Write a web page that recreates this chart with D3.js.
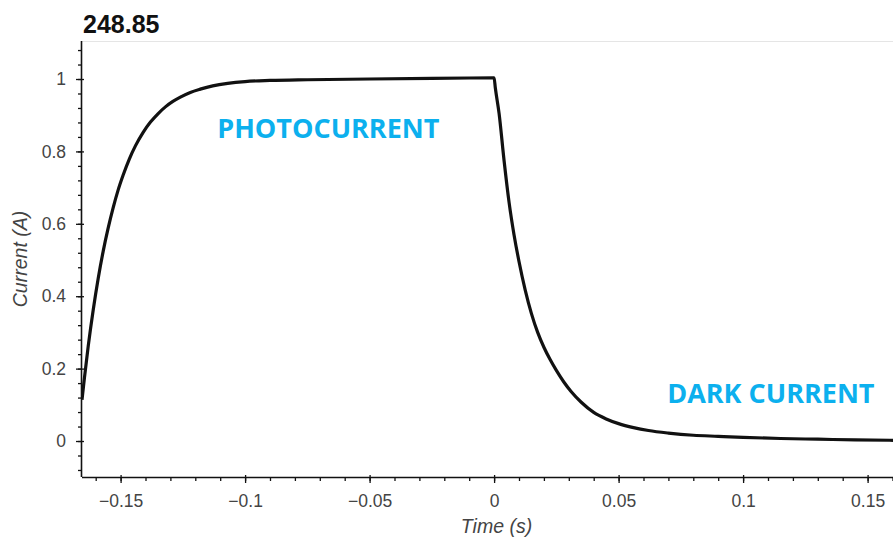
<!DOCTYPE html>
<html>
<head>
<meta charset="utf-8">
<script src="https://cdn.jsdelivr.net/npm/d3@7"></script>
<style>
  html, body { margin: 0; padding: 0; background: #fff; }
  svg { display: block; }
</style>
</head>
<body>
<svg id="chart" width="893" height="538"></svg>
<script>
// Measured response: time (s) and current (A)
const timeValues = [
  -0.1655, -0.1645, -0.1630, -0.1610, -0.1590, -0.1570, -0.1550, -0.1530,
  -0.1510, -0.1490, -0.1465, -0.1440, -0.1410, -0.1380, -0.1350, -0.1320,
  -0.1290, -0.1260, -0.1220, -0.1180, -0.1130, -0.1070, -0.1000, -0.0900,
  -0.0750, -0.0500, -0.0250, 0.0000,
  0.0005, 0.0020, 0.0040, 0.0060, 0.0080, 0.0100, 0.0125, 0.0150, 0.0175,
  0.0200, 0.0225, 0.0250, 0.0280, 0.0310, 0.0350, 0.0400, 0.0450, 0.0500,
  0.0560, 0.0620, 0.0700, 0.0800, 0.0900, 0.1000, 0.1150, 0.1300, 0.1450,
  0.1602
];
const currentValues = [
  0.114, 0.176, 0.262, 0.362, 0.449, 0.524, 0.588, 0.644,
  0.693, 0.734, 0.779, 0.816, 0.852, 0.881, 0.904, 0.923,
  0.938, 0.950, 0.963, 0.972, 0.981, 0.988, 0.993, 0.996,
  0.998, 1.000, 1.002, 1.003,
  0.975, 0.905, 0.775, 0.660, 0.570, 0.496, 0.417, 0.352, 0.300,
  0.259, 0.225, 0.195, 0.163, 0.136, 0.107, 0.079, 0.061, 0.048,
  0.037, 0.029, 0.022, 0.016, 0.013, 0.010, 0.007, 0.005, 0.003,
  0.002
];

const xMajorTicks = [-0.15, -0.1, -0.05, 0, 0.05, 0.1, 0.15];
const xTickLabels = ["\u22120.15", "\u22120.1", "\u22120.05", "0", "0.05", "0.1", "0.15"];
const yMajorTicks = [0, 0.2, 0.4, 0.6, 0.8, 1];
const yTickLabels = ["0", "0.2", "0.4", "0.6", "0.8", "1"];
const xMinorTicks = d3.range(-16, 17).map(d => d / 100);
const yMinorTicks = d3.range(-2, 28).map(d => d * 0.04);

const titleText = "248.85";
const xLabel = "Time (s)";
const yLabel = "Current (A)";
const annotations = [
  { text: "PHOTOCURRENT", t: -0.1112, v: 0.837 },
  { text: "DARK CURRENT", t: 0.0695, v: 0.105 }
];

const plot = { left: 82, right: 893, top: 41, bottom: 477 };

const x = d3.scaleLinear().domain([-0.1655, 0.1602]).range([plot.left, plot.right]);
const y = d3.scaleLinear().domain([-0.0994, 1.105]).range([plot.bottom, plot.top]);

const svg = d3.select("#chart");

// plot outline (top edge)
svg.append("line")
  .attr("x1", plot.left).attr("x2", plot.right)
  .attr("y1", plot.top + 0.5).attr("y2", plot.top + 0.5)
  .attr("stroke", "#e5e5e5").attr("stroke-width", 1);

// title
svg.append("text")
  .attr("x", 83).attr("y", 33)
  .attr("font-family", "Liberation Sans, Arial, sans-serif")
  .attr("font-weight", "bold")
  .attr("font-size", 25)
  .attr("fill", "#111")
  .text(titleText);

// curve, clipped to the plot frame
svg.append("clipPath").attr("id", "plotClip")
  .append("rect")
  .attr("x", plot.left).attr("y", plot.top)
  .attr("width", plot.right - plot.left).attr("height", plot.bottom - plot.top);

const pts = timeValues.map((t, i) => [t, currentValues[i]]);
const line = d3.line()
  .x(d => x(d[0]))
  .y(d => y(d[1]))
  .curve(d3.curveMonotoneX);

svg.append("path")
  .datum(pts)
  .attr("clip-path", "url(#plotClip)")
  .attr("fill", "none")
  .attr("stroke", "#111")
  .attr("stroke-width", 3.2)
  .attr("stroke-linejoin", "round")
  .attr("d", line);

// x axis
const xAxisG = svg.append("g").attr("transform", `translate(0,${plot.bottom})`);
xAxisG.call(d3.axisBottom(x).tickValues(xMinorTicks).tickSize(4).tickFormat(""))
  .call(g => g.select(".domain").remove());
xAxisG.append("g")
  .call(d3.axisBottom(x).tickValues(xMajorTicks).tickSizeInner(6).tickSizeOuter(0)
    .tickPadding(12).tickFormat((d, i) => xTickLabels[i]))
  .call(g => g.selectAll(".tick line").attr("y1", -2).attr("y2", 6))
  .call(g => g.select(".domain").attr("d", `M${plot.left},0.5H${plot.right}`))
  .call(g => g.selectAll("text")
    .attr("font-family", "Liberation Sans, Arial, sans-serif")
    .attr("font-size", 17.5).attr("fill", "#444"));
xAxisG.selectAll("line").attr("stroke", "#111").attr("stroke-width", 1.3);
xAxisG.selectAll(".domain").attr("stroke", "#111").attr("stroke-width", 1.6);

// y axis
const yAxisG = svg.append("g").attr("transform", `translate(${plot.left},0)`);
yAxisG.call(d3.axisLeft(y).tickValues(yMinorTicks).tickSize(4).tickFormat(""))
  .call(g => g.select(".domain").remove());
yAxisG.append("g")
  .call(d3.axisLeft(y).tickValues(yMajorTicks).tickSizeInner(6).tickSizeOuter(0)
    .tickPadding(10).tickFormat((d, i) => yTickLabels[i]))
  .call(g => g.selectAll(".tick line").attr("x1", 2).attr("x2", -6))
  .call(g => g.select(".domain").attr("d", `M-0.5,${plot.top}V${plot.bottom}`))
  .call(g => g.selectAll("text")
    .attr("font-family", "Liberation Sans, Arial, sans-serif")
    .attr("font-size", 17.5).attr("fill", "#444"));
yAxisG.selectAll("line").attr("stroke", "#111").attr("stroke-width", 1.3);
yAxisG.selectAll(".domain").attr("stroke", "#111").attr("stroke-width", 1.6);

// axis titles
svg.append("text")
  .attr("x", (plot.left + plot.right) / 2 + 9).attr("y", 533)
  .attr("text-anchor", "middle")
  .attr("font-family", "Liberation Sans, Arial, sans-serif")
  .attr("font-style", "italic")
  .attr("font-size", 19.5)
  .attr("fill", "#444")
  .text(xLabel);

svg.append("text")
  .attr("transform", `translate(27,${(plot.top + plot.bottom) / 2}) rotate(-90)`)
  .attr("text-anchor", "middle")
  .attr("font-family", "Liberation Sans, Arial, sans-serif")
  .attr("font-style", "italic")
  .attr("font-size", 19.5)
  .attr("fill", "#444")
  .text(yLabel);

// annotations
svg.selectAll("text.note")
  .data(annotations)
  .join("text")
  .attr("class", "note")
  .attr("x", d => x(d.t))
  .attr("y", d => y(d.v))
  .attr("font-family", "Open Sans, sans-serif")
  .attr("font-weight", "bold")
  .attr("font-size", 27)
  .attr("fill", "#0cb0ee")
  .text(d => d.text);
</script>
</body>
</html>
